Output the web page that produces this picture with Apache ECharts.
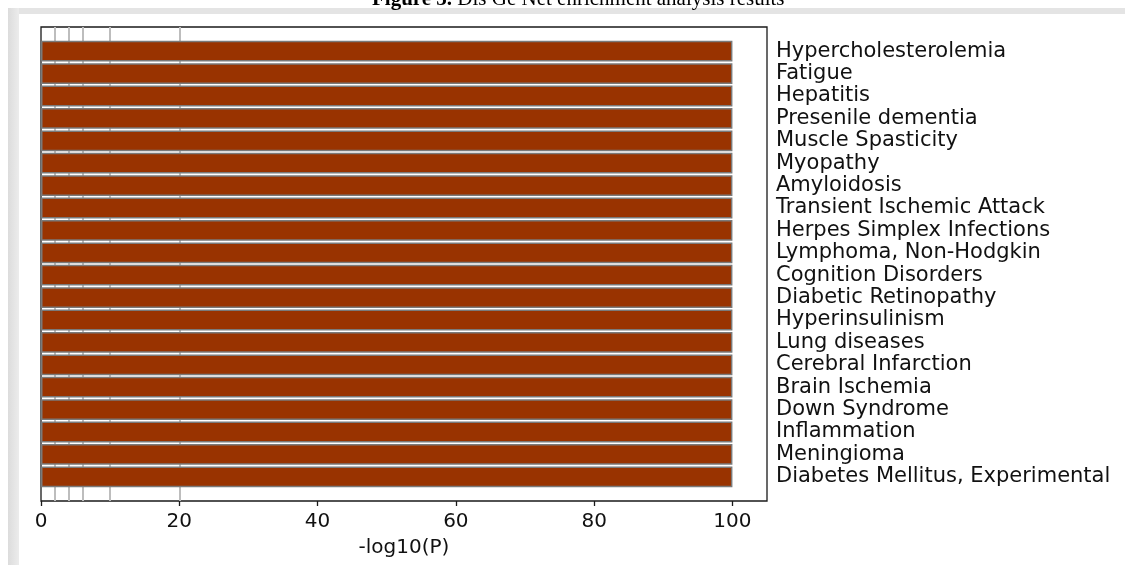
<!DOCTYPE html>
<html>
<head>
<meta charset="utf-8">
<script src="https://cdn.jsdelivr.net/npm/echarts@6/dist/echarts.min.js"></script>
<style>
html,body{margin:0;padding:0;background:#fff;}
#chart{width:1125px;height:565px;}
</style>
</head>
<body>
<div id="chart"></div>
<script>
const categories = [
  "Hypercholesterolemia","Fatigue","Hepatitis","Presenile dementia","Muscle Spasticity",
  "Myopathy","Amyloidosis","Transient Ischemic Attack","Herpes Simplex Infections",
  "Lymphoma, Non-Hodgkin","Cognition Disorders","Diabetic Retinopathy","Hyperinsulinism",
  "Lung diseases","Cerebral Infarction","Brain Ischemia","Down Syndrome","Inflammation",
  "Meningioma","Diabetes Mellitus, Experimental"
];
const values = [100,100,100,100,100,100,100,100,100,100,100,100,100,100,100,100,100,100,100,100];
const thresholdLines = [2,4,6,10,20];
const xTicks = [0,20,40,60,80,100];
const xTitle = "-log10(P)";
const captionBold = "Figure 3.";
const captionText = " Dis Ge Net enrichment analysis results";

const FONT = "DejaVu Sans";
const chart = echarts.init(document.getElementById('chart'), null, {renderer:'canvas'});
const option = {
  backgroundColor: '#fff',
  animation: false,
  graphic: [
    {type:'rect', shape:{x:8,y:8,width:1117,height:6}, style:{fill:'#e4e4e4'}, z:-10, silent:true},
    {type:'rect', shape:{x:8,y:8,width:11,height:557}, style:{fill:new echarts.graphic.LinearGradient(0,0,1,0,[{offset:0,color:'#dcdcdc'},{offset:1,color:'#ececec'}])}, z:-10, silent:true},
    {type:'text', left: 372, top: -11, style:{text:'{b|'+captionBold+'}'+captionText, font:'21px "Liberation Serif"', fill:'#000', rich:{b:{fontWeight:'bold', fontFamily:'Liberation Serif', fontSize:21}}}, silent:true}
  ],
  grid: [
    {left:41, right:358, top:27, bottom:64, show:true, borderColor:'#1a1a1a', borderWidth:1.3, backgroundColor:'transparent'},
    {left:41, right:358, top:40, bottom:77}
  ],
  xAxis: [
    {gridIndex:0, type:'value', min:0, max:105, interval:20,
     axisLine:{show:false}, splitLine:{show:false},
     axisTick:{show:true, length:5, lineStyle:{color:'#1a1a1a', width:1.3}, customValues: xTicks},
     axisLabel:{color:'#111', fontFamily:FONT, fontSize:20, margin:11, customValues: xTicks},
     name:xTitle, nameLocation:'middle', nameGap:37,
     nameTextStyle:{color:'#111', fontFamily:FONT, fontSize:20}},
    {gridIndex:1, type:'value', min:0, max:105, show:false}
  ],
  yAxis: [
    {gridIndex:0, type:'value', min:0, max:1, show:false},
    {gridIndex:1, type:'category', data:categories, inverse:true, position:'right',
     axisLine:{show:false}, axisTick:{show:false}, splitLine:{show:false},
     axisLabel:{interval:0, color:'#111', fontFamily:FONT, fontSize:21, margin:9, align:'left', padding:[2,0,0,0]}}
  ],
  series: [
    {type:'scatter', xAxisIndex:0, yAxisIndex:0, data:[], z:1, silent:true,
     markLine:{z:1, symbol:['none','none'], silent:true, label:{show:false},
       lineStyle:{color:'#bdbdbd', width:2, type:'solid'},
       data: thresholdLines.map(v => ({xAxis:v}))}},
    {type:'bar', xAxisIndex:1, yAxisIndex:1, data:values, z:10,
     barCategoryGap:'7%',
     itemStyle:{color:'#993300', borderColor:'#7a7a7a', borderWidth:1.5}}
  ]
};
chart.setOption(option);
</script>
</body>
</html>
